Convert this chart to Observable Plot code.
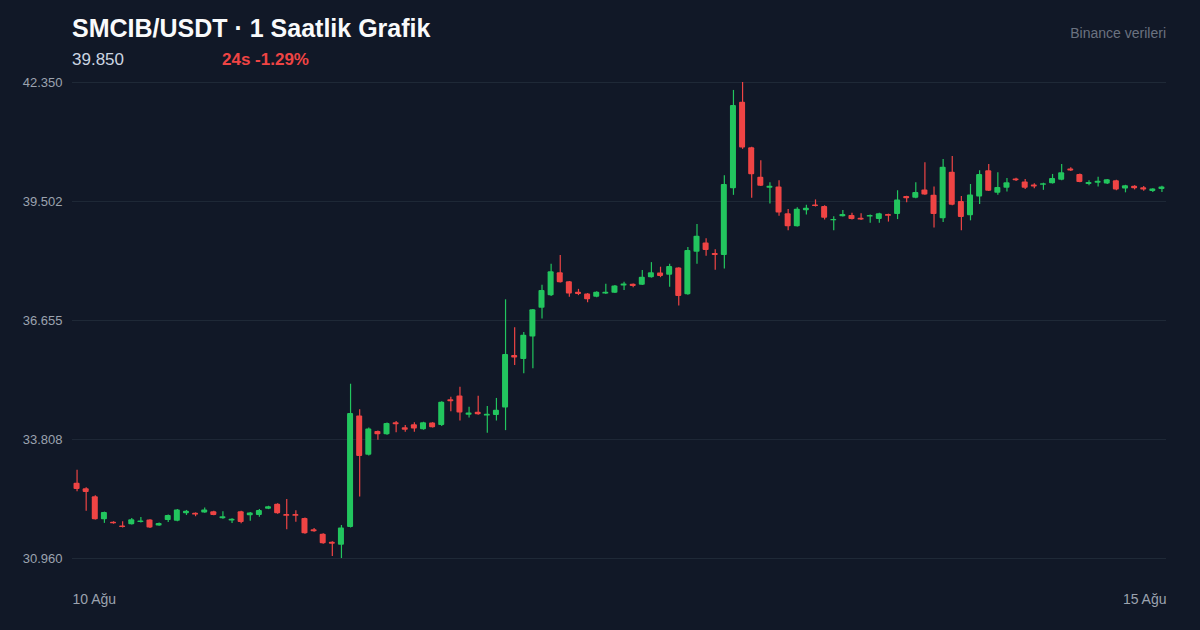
<!DOCTYPE html>
<html>
<head>
<meta charset="utf-8">
<script src="https://cdn.jsdelivr.net/npm/d3@7"></script>
<script src="https://cdn.jsdelivr.net/npm/@observablehq/plot@0.6"></script>
<style>
  html, body { margin: 0; padding: 0; background: #111827; }
  #wrap { position: relative; width: 1200px; height: 630px; background: #111827; overflow: hidden;
          font-family: "Liberation Sans", Arial, Helvetica, sans-serif; }
  .hdr { position: absolute; white-space: nowrap; line-height: 1; }
  #title { left: 72px; top: 16px; font-size: 25px; font-weight: bold; color: #f9fafb; }
  #price { left: 72px; top: 51px; font-size: 17px; color: #cbd5e1; }
  #change { left: 222px; top: 51px; font-size: 17px; font-weight: bold; color: #ef4444; }
  #source { right: 34px; top: 26px; font-size: 14px; color: #6b7280; }
  #chart { position: absolute; left: 0; top: 0; }
</style>
</head>
<body>
<div id="wrap">
  <div id="chart"></div>
  <div class="hdr" id="title">SMCIB/USDT · 1 Saatlik Grafik</div>
  <div class="hdr" id="price">39.850</div>
  <div class="hdr" id="change">24s -1.29%</div>
  <div class="hdr" id="source">Binance verileri</div>
</div>
<script>
// ---- Data (hourly candles) ----
const startTime = "2025-08-10T00:00:00Z";
const endTime = "2025-08-15T00:00:00Z";
const xTickLabels = ["10 Ağu", "15 Ağu"];
const yTicks = [30.960, 33.808, 36.655, 39.502, 42.350];

const opens = [
  32.76, 32.63, 32.44, 31.89, 31.83, 31.74, 31.77, 31.82, 31.88, 31.74,
  31.87, 31.85, 32.03, 32.04, 32.05, 32.08, 31.91, 31.86, 32.08, 31.98,
  31.99, 32.14, 32.26, 32.01, 32.01, 31.92, 31.65, 31.54, 31.35, 31.28,
  31.70, 34.37, 33.43, 34.00, 33.92, 34.21, 34.09, 34.16, 34.04, 34.20,
  34.14, 34.76, 34.85, 34.39, 34.46, 34.37, 34.38, 34.56, 35.82, 35.72,
  36.26, 36.95, 37.25, 37.80, 37.58, 37.33, 37.29, 37.21, 37.29, 37.31,
  37.48, 37.52, 37.50, 37.68, 37.79, 37.74, 37.91, 37.27, 38.29, 38.51,
  38.26, 38.21, 39.81, 41.88, 40.79, 40.08, 39.82, 39.85, 39.21, 38.90,
  39.28, 39.42, 39.38, 39.04, 39.14, 39.17, 39.10, 39.13, 39.07, 39.19,
  39.19, 39.62, 39.58, 39.78, 39.65, 39.09, 40.20, 39.50, 39.16, 39.61,
  40.24, 39.70, 39.82, 40.04, 39.97, 39.90, 39.89, 39.93, 40.01, 40.28,
  40.15, 39.91, 39.94, 39.92, 40.00, 39.80, 39.87, 39.83, 39.74, 39.79
];
const highs = [
  33.07, 32.65, 32.46, 32.07, 31.84, 31.84, 31.92, 31.94, 31.89, 31.81,
  32.00, 32.13, 32.11, 32.05, 32.17, 32.09, 32.08, 31.91, 32.09, 32.06,
  32.13, 32.21, 32.27, 32.37, 32.10, 31.93, 31.68, 31.55, 31.36, 31.75,
  35.13, 34.52, 34.08, 34.01, 34.20, 34.24, 34.14, 34.21, 34.22, 34.21,
  34.71, 34.82, 35.06, 34.58, 34.84, 34.60, 34.79, 37.15, 36.48, 36.37,
  36.92, 37.50, 38.00, 38.21, 37.59, 37.40, 37.30, 37.34, 37.52, 37.49,
  37.57, 37.53, 37.85, 38.04, 37.93, 38.00, 37.92, 38.40, 38.95, 38.61,
  38.35, 40.12, 42.16, 42.35, 40.80, 40.48, 39.95, 40.00, 39.31, 39.35,
  39.41, 39.54, 39.40, 39.14, 39.29, 39.22, 39.21, 39.18, 39.22, 39.20,
  39.76, 39.63, 39.95, 40.43, 39.85, 40.51, 40.58, 39.62, 39.91, 40.24,
  40.39, 40.19, 40.05, 40.06, 40.03, 39.93, 39.94, 40.15, 40.39, 40.31,
  40.16, 40.00, 40.08, 40.03, 40.01, 39.89, 39.88, 39.86, 39.81, 39.87
];
const lows = [
  32.56, 32.09, 31.88, 31.80, 31.78, 31.69, 31.76, 31.81, 31.68, 31.73,
  31.82, 31.84, 31.99, 31.96, 32.04, 31.98, 31.90, 31.80, 31.79, 31.85,
  31.95, 32.13, 32.02, 31.65, 31.83, 31.54, 31.59, 31.30, 31.01, 30.96,
  31.69, 32.43, 33.41, 33.79, 33.91, 33.97, 33.98, 33.98, 34.03, 34.08,
  34.12, 34.47, 34.25, 34.32, 34.39, 33.96, 34.25, 34.02, 35.58, 35.38,
  35.50, 36.69, 37.23, 37.55, 37.21, 37.25, 37.08, 37.20, 37.28, 37.30,
  37.37, 37.44, 37.49, 37.67, 37.68, 37.45, 37.00, 37.26, 38.00, 38.19,
  37.86, 37.89, 39.65, 40.75, 39.58, 39.86, 39.44, 39.15, 38.80, 38.89,
  39.18, 39.37, 39.06, 38.80, 39.13, 39.06, 39.05, 38.98, 38.98, 39.01,
  39.07, 39.47, 39.57, 39.65, 38.87, 39.00, 39.40, 38.80, 39.04, 39.43,
  39.74, 39.65, 39.73, 39.98, 39.79, 39.81, 39.77, 39.92, 40.00, 40.22,
  39.95, 39.88, 39.85, 39.91, 39.76, 39.71, 39.78, 39.75, 39.72, 39.72
];
const closes = [
  32.61, 32.54, 31.89, 32.06, 31.79, 31.70, 31.89, 31.86, 31.69, 31.80,
  31.99, 32.12, 32.09, 32.00, 32.12, 31.99, 31.96, 31.90, 31.82, 32.05,
  32.11, 32.20, 32.03, 31.97, 31.97, 31.55, 31.60, 31.31, 31.30, 31.69,
  34.43, 33.40, 34.06, 33.92, 34.19, 34.16, 34.03, 34.06, 34.21, 34.09,
  34.70, 34.71, 34.44, 34.44, 34.40, 34.41, 34.51, 35.84, 35.76, 36.30,
  36.91, 37.37, 37.82, 37.56, 37.29, 37.28, 37.15, 37.33, 37.33, 37.48,
  37.53, 37.47, 37.69, 37.80, 37.71, 37.95, 37.23, 38.33, 38.67, 38.33,
  38.21, 39.91, 41.80, 40.78, 40.14, 39.87, 39.87, 39.23, 38.90, 39.32,
  39.34, 39.38, 39.10, 39.07, 39.19, 39.07, 39.06, 39.17, 39.21, 39.15,
  39.54, 39.57, 39.72, 39.66, 39.19, 40.32, 39.41, 39.12, 39.66, 40.15,
  39.75, 39.84, 39.95, 40.00, 39.82, 39.85, 39.93, 40.05, 40.19, 40.23,
  39.96, 39.96, 39.99, 40.02, 39.78, 39.88, 39.81, 39.78, 39.80, 39.85
];

// ---- Build table ----
const HOUR = 3600e3;
const t0 = new Date(startTime).getTime();
const d0 = new Date(startTime), d1 = new Date(endTime);
const candles = opens.map((o, i) => {
  const mid = t0 + (i + 0.5) * HOUR;
  return {
    t: new Date(mid),
    t1: new Date(mid - 0.33 * HOUR),
    t2: new Date(mid + 0.33 * HOUR),
    open: o, high: highs[i], low: lows[i], close: closes[i]
  };
});
const up = candles.filter(d => d.close >= d.open);
const down = candles.filter(d => d.close < d.open);
const GREEN = "#22c55e", RED = "#ef4444";

const chart = Plot.plot({
  width: 1200,
  height: 630,
  marginTop: 82,
  marginBottom: 72,
  marginLeft: 72,
  marginRight: 34,
  style: { background: "transparent", color: "#9ca3af", fontFamily: "'Liberation Sans', Arial, Helvetica, sans-serif", fontSize: "13px", overflow: "visible" },
  x: { type: "utc", domain: [d0, d1] },
  y: { domain: [30.96, 42.35] },
  marks: [
    Plot.gridY(yTicks, { stroke: "#1f2937", strokeOpacity: 1, strokeWidth: 1 }),
    Plot.axisY(yTicks, { tickSize: 0, tickPadding: 10, tickFormat: d => d.toFixed(3), fill: "#9ca3af", label: null, fontSize: 13 }),
    Plot.axisX([d0], { tickSize: 0, tickPadding: 36, textAnchor: "start", tickFormat: () => xTickLabels[0], fill: "#9ca3af", label: null, fontSize: 14 }),
    Plot.axisX([d1], { tickSize: 0, tickPadding: 36, textAnchor: "end", tickFormat: () => xTickLabels[1], fill: "#9ca3af", label: null, fontSize: 14 }),
    Plot.ruleX(up, { x: "t", y1: "low", y2: "high", stroke: GREEN, strokeWidth: 1.2 }),
    Plot.ruleX(down, { x: "t", y1: "low", y2: "high", stroke: RED, strokeWidth: 1.2 }),
    Plot.rect(up, { x1: "t1", x2: "t2", y1: "open", y2: "close", fill: GREEN, rx: 1 }),
    Plot.rect(down, { x1: "t1", x2: "t2", y1: "open", y2: "close", fill: RED, rx: 1 })
  ]
});
document.getElementById("chart").appendChild(chart);
</script>
</body>
</html>
